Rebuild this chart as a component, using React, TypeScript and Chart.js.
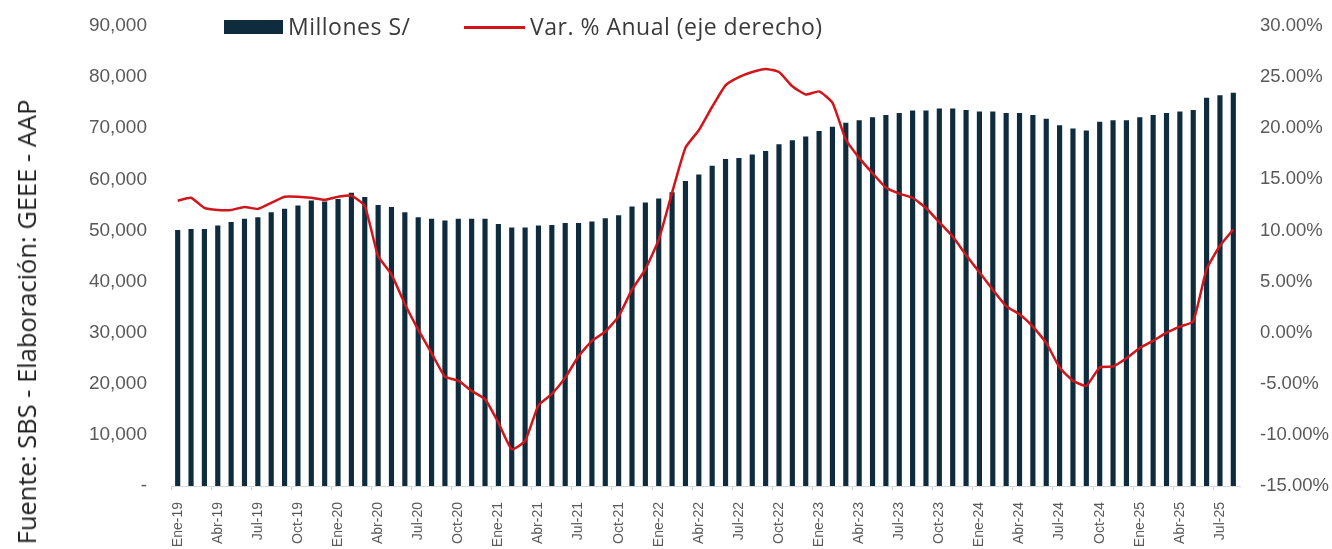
import React, { useEffect, useRef } from "react";
import { Chart, registerables } from "chart.js";

Chart.register(...registerables);

const MONTHS = ["Ene", "Feb", "Mar", "Abr", "May", "Jun", "Jul", "Ago", "Sep", "Oct", "Nov", "Dic"];
const YEARS = ["19", "20", "21", "22", "23", "24", "25"];
const categories: string[] = [];
YEARS.forEach((y) => MONTHS.forEach((m) => categories.push(`${m}-${y}`)));
const labels = categories.slice(0, 80);

// Millones S/
const millones = [
  50000, 50200, 50200, 50900, 51600, 52200, 52500, 53500, 54200, 54800, 55800, 55600,
  56100, 57300, 56500, 54900, 54500, 53500, 52500, 52200, 51900, 52200, 52200, 52200,
  51200, 50500, 50500, 50900, 51000, 51400, 51400, 51700, 52300, 52900, 54600, 55400,
  56200, 57400, 59600, 60900, 62600, 63900, 64100, 64800, 65500, 66800, 67600, 68300,
  69400, 70200, 71000, 71500, 72100, 72500, 72900, 73400, 73400, 73800, 73800, 73500,
  73200, 73200, 72900, 72900, 72500, 71800, 70500, 69900, 69500, 71200, 71500, 71500,
  72100, 72500, 72900, 73200, 73500, 75900, 76400, 76900,
];

// Var. % Anual
const varAnual = [
  12.9, 13.2, 12.2, 12.0, 12.0, 12.3, 12.1, 12.7, 13.3, 13.3, 13.2, 13.0,
  13.3, 13.4, 12.4, 7.5, 5.7, 2.8, 0.3, -2.0, -4.3, -4.7, -5.7, -6.5,
  -8.8, -11.4, -10.6, -7.1, -6.0, -4.4, -2.3, -0.8, 0.1, 1.6, 4.2, 6.2,
  9.1, 13.7, 18.1, 19.8, 22.1, 24.2, 25.0, 25.5, 25.8, 25.5, 24.1, 23.3,
  23.6, 22.5, 18.9, 17.1, 15.6, 14.2, 13.6, 13.2, 12.2, 10.8, 9.4, 7.6,
  5.9, 4.2, 2.6, 1.8, 0.6, -1.0, -3.4, -4.7, -5.2, -3.4, -3.3, -2.5,
  -1.5, -0.8, 0.0, 0.6, 1.1, 6.2, 8.5, 10.1,
];

const BAR_COLOR = "#0e2c3e";
const LINE_COLOR = "#d0161b";
const TICK_COLOR = "#595959";

export default function App() {
  const ref = useRef<HTMLCanvasElement | null>(null);

  useEffect(() => {
    if (!ref.current) return;
    const chart = new Chart(ref.current, {
      type: "bar",
      data: {
        labels,
        datasets: [
          {
            type: "line",
            label: "Var. % Anual (eje derecho)",
            data: varAnual,
            yAxisID: "y2",
            borderColor: LINE_COLOR,
            backgroundColor: LINE_COLOR,
            borderWidth: 2.5,
            pointRadius: 0,
            tension: 0.15,
            order: 0,
          },
          {
            type: "bar",
            label: "Millones S/",
            data: millones,
            yAxisID: "y",
            backgroundColor: BAR_COLOR,
            barThickness: 4.5,
            order: 1,
          },
        ],
      },
      options: {
        responsive: false,
        animation: false,
        devicePixelRatio: 1,
        layout: { padding: { top: 26, left: 0, right: 0, bottom: 0 } },
        plugins: { legend: { display: false }, tooltip: { enabled: false } },
        scales: {
          x: {
            offset: true,
            grid: {
              display: true,
              offset: true,
              drawOnChartArea: false,
              drawTicks: true,
              tickLength: 4,
              color: (ctx: any) => (ctx.index % 3 === 0 ? "#d0d0d0" : "rgba(0,0,0,0)"),
            },
            border: { display: true, color: "#d9d9d9", width: 1 },
            ticks: {
              autoSkip: false,
              minRotation: 90,
              maxRotation: 90,
              padding: 12,
              color: TICK_COLOR,
              font: { family: "'Liberation Sans', Arial, sans-serif", size: 14 },
              callback: (_v: any, i: number) => (i % 3 === 0 ? labels[i] : ""),
            },
            afterFit: (s: any) => {
              s.height = 63;
            },
          },
          y: {
            position: "left",
            min: 0,
            max: 90000,
            grid: { display: false, drawTicks: false },
            border: { display: false },
            ticks: {
              stepSize: 10000,
              padding: 24,
              color: TICK_COLOR,
              font: { family: "'Liberation Sans', Arial, sans-serif", size: 19 },
              callback: (v: any) => (v === 0 ? "-" : Number(v).toLocaleString("en-US")),
            },
            afterFit: (s: any) => {
              s.width = 171;
              s.paddingTop = 0;
              s.paddingBottom = 0;
            },
          },
          y2: {
            position: "right",
            min: -15,
            max: 30,
            grid: { display: false, drawTicks: false },
            border: { display: false },
            ticks: {
              stepSize: 5,
              padding: 20,
              color: TICK_COLOR,
              font: { family: "'Liberation Sans', Arial, sans-serif", size: 18.5 },
              callback: (v: any) => Number(v).toFixed(2) + "%",
            },
            afterFit: (s: any) => {
              s.width = 92;
              s.paddingTop = 0;
              s.paddingBottom = 0;
            },
          },
        },
      },
    });
    return () => chart.destroy();
  }, []);

  const legendText: React.CSSProperties = {
    position: "absolute",
    top: 10,
    fontFamily: "'Open Sans', 'Noto Sans', sans-serif",
    fontSize: 23,
    letterSpacing: 0.5,
    color: "#3a3a3a",
    whiteSpace: "nowrap",
    lineHeight: "32px",
  };

  return (
    <div
      style={{
        position: "fixed",
        left: 0,
        top: 0,
        width: 1332,
        height: 549,
        background: "#ffffff",
        overflow: "hidden",
      }}
    >
      <canvas ref={ref} width={1332} height={549} style={{ position: "absolute", left: 0, top: 0 }} />
      <div style={{ position: "absolute", left: 224, top: 20, width: 59, height: 14, background: BAR_COLOR }} />
      <div style={{ ...legendText, left: 288 }}>Millones S/</div>
      <div style={{ position: "absolute", left: 464, top: 26, width: 61, height: 3, background: LINE_COLOR }} />
      <div style={{ ...legendText, left: 530 }}>Var. % Anual (eje derecho)</div>
      <div
        style={{
          position: "absolute",
          left: 26,
          top: 322,
          transform: "translate(-50%, -50%) rotate(-90deg)",
          fontFamily: "'Open Sans', 'Noto Sans', sans-serif",
          fontSize: 25.5,
          color: "#222222",
          whiteSpace: "nowrap",
        }}
      >
        Fuente: SBS - Elaboración: GEEE - AAP
      </div>
    </div>
  );
}
